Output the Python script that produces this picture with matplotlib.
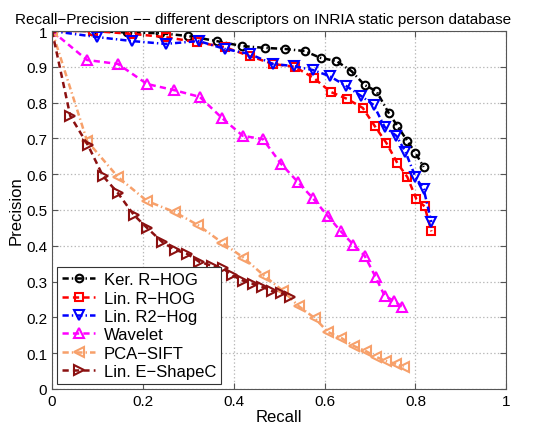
import matplotlib
matplotlib.use("Agg")
import matplotlib.pyplot as plt

plt.rcParams['font.family'] = ['Liberation Sans', 'DejaVu Sans']
plt.rcParams['lines.scale_dashes'] = False

# recall / precision values
ker_rhog_x = [0.0, 0.088, 0.165, 0.237, 0.30, 0.362, 0.418, 0.468, 0.512, 0.556, 0.591, 0.626,
              0.659, 0.688, 0.714, 0.741, 0.760, 0.782, 0.800, 0.818]
ker_rhog_y = [1.0, 1.0, 0.996, 0.994, 0.986, 0.972, 0.958, 0.953, 0.95, 0.944, 0.925, 0.916,
              0.888, 0.849, 0.832, 0.771, 0.735, 0.693, 0.659, 0.62]

lin_rhog_x = [0.0, 0.09, 0.176, 0.25, 0.318, 0.38, 0.435, 0.486, 0.534, 0.576, 0.613, 0.65,
              0.684, 0.71, 0.736, 0.76, 0.782, 0.802, 0.82, 0.835]
lin_rhog_y = [1.0, 1.0, 0.992, 0.983, 0.969, 0.955, 0.93, 0.908, 0.90, 0.869, 0.83, 0.81,
              0.785, 0.735, 0.687, 0.631, 0.592, 0.53, 0.51, 0.44]

lin_r2hog_x = [0.0, 0.10, 0.176, 0.25, 0.323, 0.38, 0.435, 0.486, 0.532, 0.574, 0.611, 0.648,
               0.681, 0.708, 0.732, 0.758, 0.778, 0.80, 0.818, 0.835]
lin_r2hog_y = [1.0, 0.983, 0.972, 0.964, 0.972, 0.95, 0.936, 0.908, 0.902, 0.891, 0.874, 0.846,
               0.818, 0.793, 0.732, 0.707, 0.662, 0.592, 0.558, 0.466]

wavelet_x = [0.0, 0.077, 0.145, 0.209, 0.268, 0.325, 0.374, 0.42, 0.464, 0.504, 0.541, 0.574,
             0.607, 0.635, 0.663, 0.688, 0.712, 0.732, 0.752, 0.771]
wavelet_y = [1.0, 0.919, 0.908, 0.852, 0.835, 0.816, 0.757, 0.707, 0.698, 0.629, 0.578, 0.533,
             0.483, 0.441, 0.403, 0.372, 0.313, 0.26, 0.246, 0.229]

pca_sift_x = [0.0, 0.077, 0.145, 0.209, 0.27, 0.322, 0.374, 0.421, 0.467, 0.508, 0.543, 0.578,
              0.607, 0.637, 0.664, 0.69, 0.714, 0.734, 0.756, 0.774]
pca_sift_y = [1.0, 0.693, 0.592, 0.525, 0.494, 0.457, 0.409, 0.367, 0.316, 0.274, 0.231, 0.198,
              0.159, 0.142, 0.12, 0.106, 0.089, 0.078, 0.07, 0.061]

eshape_x = [0.0, 0.04, 0.079, 0.112, 0.145, 0.18, 0.209, 0.242, 0.27, 0.298, 0.324, 0.352,
            0.376, 0.397, 0.421, 0.443, 0.463, 0.485, 0.504, 0.523]
eshape_y = [1.0, 0.763, 0.681, 0.595, 0.547, 0.486, 0.45, 0.411, 0.389, 0.377, 0.355, 0.344,
            0.337, 0.317, 0.302, 0.293, 0.285, 0.273, 0.269, 0.258]

# matlab-like short dashes
dashed = (0, (4.5, 3))
dashdot = (0, (4.5, 2.2, 1, 2.2))

series = [
    ('Ker. R\u2212HOG', ker_rhog_x, ker_rhog_y, 'black', dashdot, 'o', 5.5),
    ('Lin. R\u2212HOG', lin_rhog_x, lin_rhog_y, 'red', dashed, 's', 5.5),
    ('Lin. R2\u2212Hog', lin_r2hog_x, lin_r2hog_y, 'blue', dashdot, 'v', 7),
    ('Wavelet', wavelet_x, wavelet_y, 'magenta', dashed, '^', 7),
    ('PCA\u2212SIFT', pca_sift_x, pca_sift_y, '#f7a06a', dashdot, '<', 7),
    ('Lin. E\u2212ShapeC', eshape_x, eshape_y, '#8b1010', dashed, '>', 7),
]

fig = plt.figure(figsize=(5.48, 4.27), dpi=100)
ax = fig.add_axes([0.095, 0.087, 0.829, 0.838])

for name, xs, ys, col, ls, mk, ms in series:
    ax.plot(xs, ys, color=col, linestyle=ls, linewidth=1.8, marker=mk, markersize=ms,
            markerfacecolor='none', markeredgewidth=1.5, label=name)

ax.set_xlim(0, 1)
ax.set_ylim(0, 1)
ax.set_xticks([0, 0.2, 0.4, 0.6, 0.8, 1])
ax.set_xticklabels(['0', '0.2', '0.4', '0.6', '0.8', '1'])
ax.set_yticks([i / 10 for i in range(11)])
ax.set_yticklabels(['0', '0.1', '0.2', '0.3', '0.4', '0.5', '0.6', '0.7', '0.8', '0.9', '1'])
ax.tick_params(direction='in', top=True, right=True, labelsize=11, length=4, color='#555555')
ax.grid(True, linestyle=':', color='#b8b8b8', linewidth=0.9)
for sp in ax.spines.values():
    sp.set_color('#555555')

ax.set_xlabel('Recall', fontsize=12, labelpad=1)
ax.set_ylabel('Precision', fontsize=12, labelpad=2)
ax.set_title('Recall\u2212Precision \u2212\u2212 different descriptors on INRIA static person database',
             fontsize=11, pad=6, x=0.465)

leg = ax.legend(loc='lower left', fontsize=12, handlelength=2.0, handletextpad=0.5,
                borderaxespad=0.3, labelspacing=0.2, fancybox=False, framealpha=1,
                borderpad=0.3)
leg.get_frame().set_edgecolor('#333333')
leg.get_frame().set_linewidth(0.8)

fig.savefig('out.png', dpi=100)
